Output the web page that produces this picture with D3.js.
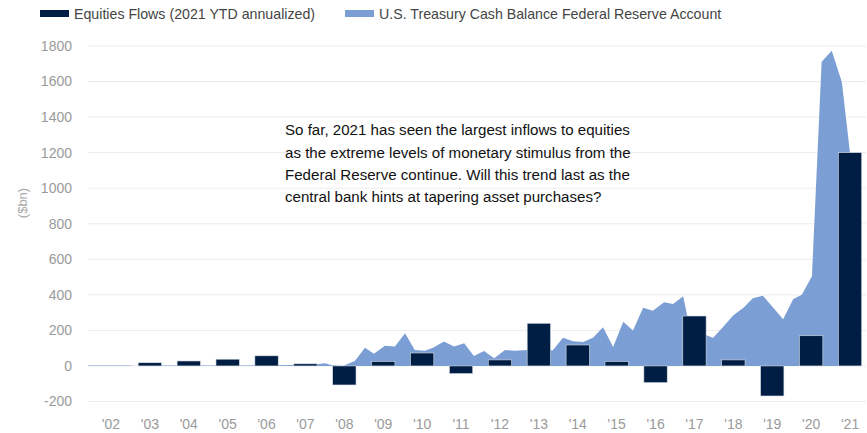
<!DOCTYPE html>
<html>
<head>
<meta charset="utf-8">
<script src="https://cdn.jsdelivr.net/npm/d3@7"></script>
<style>
  body { margin: 0; background: #fff; }
  svg { display: block; font-family: "Liberation Sans", Arial, sans-serif; }
</style>
</head>
<body>
<div id="chart"></div>
<script>
// Equities flows by year ($bn)
const years = ["'02", "'03", "'04", "'05", "'06", "'07", "'08", "'09", "'10", "'11",
               "'12", "'13", "'14", "'15", "'16", "'17", "'18", "'19", "'20", "'21"];
const equityFlows = [0, 18, 28, 38, 57, 12, -107, 25, 73, -43,
                     34, 240, 118, 25, -94, 281, 34, -169, 170, 1200];

// Treasury cash balance at the Fed ($bn)
const cashDates = [2001.41, 2001.72, 2002.10, 2002.44, 2002.62, 2003.00, 2004.29, 2005.57, 2006.86, 2007.24,
                   2007.50, 2007.68, 2007.96, 2008.27, 2008.53, 2008.76, 2009.04, 2009.30, 2009.56, 2009.81,
                   2010.07, 2010.28, 2010.56, 2010.82, 2011.08, 2011.33, 2011.59, 2011.85, 2012.13, 2012.39,
                   2012.70, 2013.36, 2013.62, 2013.88, 2014.14, 2014.39, 2014.65, 2014.91, 2015.17, 2015.42,
                   2015.68, 2015.93, 2016.22, 2016.45, 2016.71, 2016.81, 2017.07, 2017.32, 2017.48, 2017.74,
                   2018.00, 2018.26, 2018.50, 2018.76, 2019.28, 2019.54, 2019.76, 2020.02, 2020.27, 2020.53,
                   2020.79, 2021.00, 2021.15];
const cashValues = [3, 3, 3, 2, 0, 2, 3, 3, 5, 8,
                    15, 4, 0, 28, 103, 68, 114, 109, 184, 90,
                    85, 103, 137, 109, 128, 56, 84, 43, 90, 85,
                    90, 88, 159, 139, 135, 158, 218, 107, 249, 199,
                    328, 311, 358, 349, 392, 287, 200, 172, 158, 221,
                    285, 327, 381, 395, 263, 376, 401, 504, 1712, 1773,
                    1596, 1196, 1000];

const yTicks = [-200, 0, 200, 400, 600, 800, 1000, 1200, 1400, 1600, 1800];

const legendItems = ["Equities Flows (2021 YTD annualized)", "U.S. Treasury Cash Balance Federal Reserve Account"];
const note = ["So far, 2021 has seen the largest inflows to equities",
              "as the extreme levels of monetary stimulus from the",
              "Federal Reserve continue. Will this trend last as the",
              "central bank hints at tapering asset purchases?"];

const width = 867, height = 433;
const barColor = "#001e44", areaColor = "#7b9fd4";

const svg = d3.select("#chart").append("svg")
    .attr("width", width)
    .attr("height", height);

// Scales
const x = d3.scaleBand()
    .domain(years)
    .range([91.5, 869.5])
    .paddingInner(0.4)
    .paddingOuter(0.2);

const xTime = d3.scaleLinear()
    .domain([2002, 2021])
    .range([x(years[0]) + x.bandwidth() / 2, x(years[19]) + x.bandwidth() / 2]);

const y = d3.scaleLinear()
    .domain([-200, 1800])
    .range([401.5, 46]);

// Gridlines
svg.append("g")
   .selectAll("line")
   .data(yTicks)
   .join("line")
   .attr("x1", 88)
   .attr("x2", 866)
   .attr("y1", d => y(d))
   .attr("y2", d => y(d))
   .attr("stroke", "#ececec")
   .attr("stroke-width", 1);

// Y axis labels
svg.append("g")
   .selectAll("text")
   .data(yTicks)
   .join("text")
   .attr("x", 72)
   .attr("y", d => y(d))
   .attr("dy", "0.35em")
   .attr("text-anchor", "end")
   .attr("font-size", 14)
   .attr("fill", "#9a9a9a")
   .text(d => d);

svg.append("text")
   .attr("transform", `translate(27,203) rotate(-90)`)
   .attr("text-anchor", "middle")
   .attr("font-size", 13)
   .attr("fill", "#aaaaaa")
   .text("($bn)");

// Area
const cash = cashDates.map((d, i) => ({t: d, v: cashValues[i]}));
svg.append("path")
   .datum(cash)
   .attr("fill", areaColor)
   .attr("d", d3.area()
       .x(d => xTime(d.t))
       .y0(y(0))
       .y1(d => y(d.v)));

// Bars
svg.append("g")
   .selectAll("rect")
   .data(years.map((d, i) => ({year: d, v: equityFlows[i]})))
   .join("rect")
   .attr("x", d => x(d.year))
   .attr("y", d => y(Math.max(0, d.v)))
   .attr("width", x.bandwidth())
   .attr("height", d => Math.abs(y(d.v) - y(0)))
   .attr("fill", barColor)
   .attr("stroke", "#d8dce4")
   .attr("stroke-width", 0.6);

// X axis labels
svg.append("g")
   .selectAll("text")
   .data(years)
   .join("text")
   .attr("x", d => x(d) + x.bandwidth() / 2)
   .attr("y", 424)
   .attr("dy", "0.35em")
   .attr("text-anchor", "middle")
   .attr("font-size", 14)
   .attr("fill", "#9a9a9a")
   .text(d => d);

// Legend
const legendX = [40, 345];
const legend = svg.append("g");
legendItems.forEach((label, i) => {
  legend.append("rect")
        .attr("x", legendX[i])
        .attr("y", 10)
        .attr("width", 29)
        .attr("height", 7)
        .attr("fill", i === 0 ? barColor : areaColor);
  legend.append("text")
        .attr("x", legendX[i] + 34)
        .attr("y", 14)
        .attr("dy", "0.35em")
        .attr("font-size", 14.2)
        .attr("fill", "#444")
        .text(label);
});

// Annotation
svg.append("g")
   .selectAll("text")
   .data(note)
   .join("text")
   .attr("x", 285)
   .attr("y", (d, i) => 130 + i * 22.3)
   .attr("dy", "0.35em")
   .attr("font-size", 15.1)
   .attr("fill", "#111")
   .text(d => d);
</script>
</body>
</html>
